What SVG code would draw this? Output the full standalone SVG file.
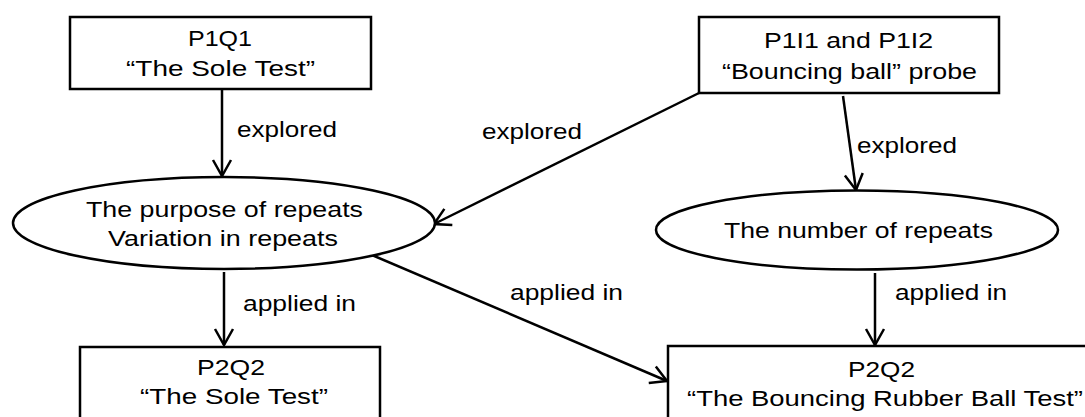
<svg xmlns="http://www.w3.org/2000/svg" width="1085" height="417" viewBox="0 0 1085 417">
<style>
  .box { fill: #fff; stroke: #000; stroke-width: 2.5; }
  .ell { fill: #fff; stroke: #000; stroke-width: 2.5; }
  .lbl { font-family: "Liberation Sans", Arial, sans-serif; font-size: 21.5px; fill: #000; }
  .edge { fill: none; stroke: #000; stroke-width: 2.5; marker-end: url(#arr); }
</style>
<defs>
  <marker id="arr" viewBox="-18 -11 20 22" refX="0" refY="0" markerWidth="20" markerHeight="22" markerUnits="userSpaceOnUse" orient="auto">
    <path d="M-16,-9 L0,0 L-16,9" fill="none" stroke="#000" stroke-width="2.5"/>
  </marker>
</defs>
<rect width="1085" height="417" fill="#fff"/>
<g id="connectors">
  <line class="edge" x1="222" y1="89" x2="222" y2="176"/>
  <line class="edge" x1="699" y1="93" x2="434" y2="224"/>
  <line class="edge" x1="843" y1="96" x2="856" y2="190"/>
  <line class="edge" x1="224" y1="272" x2="224" y2="345"/>
  <line class="edge" x1="372" y1="255" x2="667" y2="381"/>
  <line class="edge" x1="875" y1="273" x2="875" y2="345"/>
  <text class="lbl" x="237" y="137" textLength="100" lengthAdjust="spacingAndGlyphs">explored</text>
  <text class="lbl" x="482" y="139" textLength="100" lengthAdjust="spacingAndGlyphs">explored</text>
  <text class="lbl" x="857" y="153" textLength="100" lengthAdjust="spacingAndGlyphs">explored</text>
  <text class="lbl" x="243" y="311" textLength="113" lengthAdjust="spacingAndGlyphs">applied in</text>
  <text class="lbl" x="510" y="300" textLength="113" lengthAdjust="spacingAndGlyphs">applied in</text>
  <text class="lbl" x="895" y="300" textLength="112" lengthAdjust="spacingAndGlyphs">applied in</text>
</g>
<g id="p1q1">
  <rect class="box" x="70" y="17" width="301" height="72"/>
  <text class="lbl" x="188" y="46" textLength="64" lengthAdjust="spacingAndGlyphs">P1Q1</text>
  <text class="lbl" x="126" y="76" textLength="189" lengthAdjust="spacingAndGlyphs">“The Sole Test”</text>
</g>
<g id="p1i1">
  <rect class="box" x="699" y="17" width="300" height="76"/>
  <text class="lbl" x="764" y="48" textLength="169" lengthAdjust="spacingAndGlyphs">P1I1 and P1I2</text>
  <text class="lbl" x="722" y="79" textLength="255" lengthAdjust="spacingAndGlyphs">“Bouncing ball” probe</text>
</g>
<g id="purpose">
  <ellipse class="ell" cx="224" cy="223" rx="211" ry="46"/>
  <text class="lbl" x="86" y="217" textLength="277" lengthAdjust="spacingAndGlyphs">The purpose of repeats</text>
  <text class="lbl" x="108" y="246" textLength="230" lengthAdjust="spacingAndGlyphs">Variation in repeats</text>
</g>
<g id="number">
  <ellipse class="ell" cx="857" cy="230" rx="201" ry="39.5"/>
  <text class="lbl" x="724" y="238" textLength="269" lengthAdjust="spacingAndGlyphs">The number of repeats</text>
</g>
<g id="p2q2-sole">
  <rect class="box" x="80" y="347" width="300" height="90"/>
  <text class="lbl" x="197" y="375" textLength="68" lengthAdjust="spacingAndGlyphs">P2Q2</text>
  <text class="lbl" x="140" y="404" textLength="188" lengthAdjust="spacingAndGlyphs">“The Sole Test”</text>
</g>
<g id="p2q2-ball">
  <rect class="box" x="668" y="346" width="430" height="90"/>
  <text class="lbl" x="848" y="377" textLength="67" lengthAdjust="spacingAndGlyphs">P2Q2</text>
  <text class="lbl" x="687" y="406" textLength="396" lengthAdjust="spacingAndGlyphs">“The Bouncing Rubber Ball Test”</text>
</g>
</svg>
